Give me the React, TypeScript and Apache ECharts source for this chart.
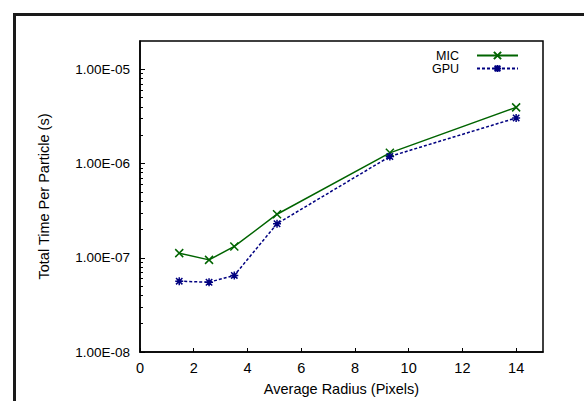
import React, { useEffect, useRef } from "react";
import * as echarts from "echarts";

const micRadius = [1.46, 2.57, 3.51, 5.1, 9.3, 14.0];
const micTime = [1.12e-7, 9.5e-8, 1.32e-7, 2.9e-7, 1.3e-6, 3.95e-6];
const gpuRadius = [1.46, 2.57, 3.51, 5.1, 9.3, 14.0];
const gpuTime = [5.65e-8, 5.5e-8, 6.5e-8, 2.3e-7, 1.19e-6, 3.05e-6];
const xTicks = [0, 2, 4, 6, 8, 10, 12, 14];
const yMajorTicks = [1e-8, 1e-7, 1e-6, 1e-5];
const yMinorTicks = [
  2e-8, 3e-8, 4e-8, 5e-8, 6e-8, 7e-8, 8e-8, 9e-8,
  2e-7, 3e-7, 4e-7, 5e-7, 6e-7, 7e-7, 8e-7, 9e-7,
  2e-6, 3e-6, 4e-6, 5e-6, 6e-6, 7e-6, 8e-6, 9e-6,
];

const FONT = "'Liberation Sans', Arial, Helvetica, sans-serif";
const X_PATH = "path://M0,0L10,10M10,0L0,10";
const STAR_PATH = "path://M0,5L10,5M5,0L5,10M1,1L9,9M9,1L1,9";

function fmtSci(v: number): string {
  const e = Math.round(Math.log10(v));
  const m = v / Math.pow(10, e);
  return m.toFixed(2) + "E" + (e < 0 ? "-" : "+") + String(Math.abs(e)).padStart(2, "0");
}

export default function App() {
  const ref = useRef<HTMLDivElement>(null);
  useEffect(() => {
    if (!ref.current) return;
    const chart = echarts.init(ref.current, undefined, { renderer: "svg" });
    const toPairs = (xs: number[], ys: number[]) => xs.map((x, i) => [x, ys[i]]);
    chart.setOption({
      animation: false,
      backgroundColor: "#fff",
      textStyle: { fontFamily: FONT },
      graphic: [
        {
          type: "rect",
          shape: { x: 14.5, y: 14.5, width: 620, height: 420 },
          style: { fill: "none", stroke: "#1a1a1a", lineWidth: 3 },
          silent: true,
        },
      ],
      grid: {
        left: 140,
        top: 41,
        right: 41,
        bottom: 49,
        show: true,
        borderColor: "#000",
        borderWidth: 1.5,
        backgroundColor: "transparent",
      },
      legend: {
        orient: "vertical",
        right: 60,
        top: 44,
        align: "right",
        itemWidth: 41,
        itemHeight: 9,
        itemGap: 0,
        textStyle: {
          fontFamily: FONT,
          fontSize: 12.5,
          lineHeight: 12,
          color: "#000",
          padding: [0, 13, 0, 0],
        },
        data: ["MIC", "GPU"],
      },
      xAxis: {
        type: "value",
        min: 0,
        max: 15,
        interval: 1,
        name: "Average Radius (Pixels)",
        nameLocation: "middle",
        nameGap: 29,
        nameTextStyle: { fontFamily: FONT, fontSize: 14.5, color: "#000" },
        axisLine: { show: true, lineStyle: { color: "#000", width: 1.5 } },
        axisTick: {
          show: true,
          inside: true,
          length: 4,
          customValues: xTicks,
          lineStyle: { color: "#000", width: 1 },
        },
        axisLabel: {
          customValues: xTicks,
          margin: 8,
          fontFamily: FONT,
          fontSize: 14.5,
          color: "#000",
        },
        splitLine: { show: false },
      },
      yAxis: [
        {
          type: "log",
          logBase: 10,
          min: 1e-8,
          max: 2e-5,
          name: "Total Time Per Particle (s)",
          nameLocation: "middle",
          nameGap: 89,
          nameTextStyle: { fontFamily: FONT, fontSize: 14.5, color: "#000" },
          axisLine: { show: true, lineStyle: { color: "#000", width: 1.5 } },
          axisTick: {
            show: true,
            inside: true,
            length: 5,
            customValues: yMajorTicks,
            lineStyle: { color: "#000", width: 1 },
          },
          axisLabel: {
            customValues: yMajorTicks,
            margin: 10,
            fontFamily: FONT,
            fontSize: 13.5,
            color: "#000",
            formatter: (v: number) => fmtSci(v),
          },
          splitLine: { show: false },
        },
        {
          type: "log",
          logBase: 10,
          min: 1e-8,
          max: 2e-5,
          position: "left",
          axisLine: { show: false },
          axisTick: {
            show: true,
            inside: true,
            length: 3,
            customValues: yMinorTicks,
            lineStyle: { color: "#000", width: 1 },
          },
          axisLabel: { show: false },
          splitLine: { show: false },
        },
      ],
      series: [
        {
          name: "MIC",
          type: "line",
          yAxisIndex: 0,
          data: toPairs(micRadius, micTime),
          symbol: X_PATH,
          symbolSize: 8,
          showAllSymbol: true,
          lineStyle: { color: "#006400", width: 1.5, type: "solid" },
          itemStyle: { color: "#006400", borderColor: "#006400", borderWidth: 1.5 },
        },
        {
          name: "GPU",
          type: "line",
          yAxisIndex: 0,
          data: toPairs(gpuRadius, gpuTime),
          symbol: STAR_PATH,
          symbolSize: 8,
          showAllSymbol: true,
          lineStyle: { color: "#000080", width: 1.5, type: [3, 2] },
          itemStyle: { color: "#000080", borderColor: "#000080", borderWidth: 1.5 },
        },
      ],
    });
    return () => chart.dispose();
  }, []);
  return (
    <div
      ref={ref}
      style={{ position: "fixed", left: 0, top: 0, width: 584, height: 401 }}
    />
  );
}
